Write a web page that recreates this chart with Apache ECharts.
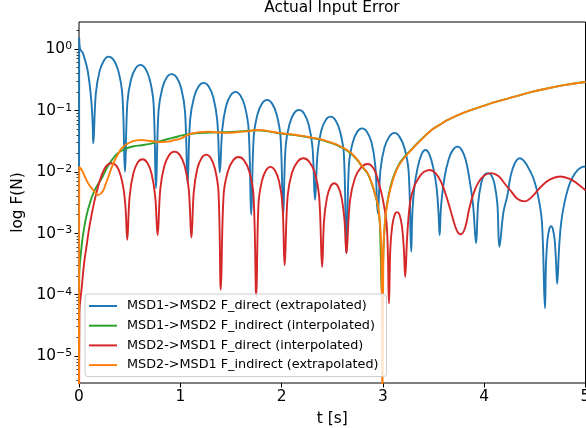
<!DOCTYPE html>
<html><head><meta charset="utf-8">
<script src="https://cdn.jsdelivr.net/npm/echarts@6/dist/echarts.min.js"></script>
<style>html,body{margin:0;padding:0;background:#fff}#c{width:586px;height:428px}</style>
</head><body><div id="c"></div>
<script>
const seriesNames = [
  'MSD1->MSD2 F_direct (extrapolated)',
  'MSD1->MSD2 F_indirect (interpolated)',
  'MSD2->MSD1 F_direct (interpolated)',
  'MSD2->MSD1 F_indirect (extrapolated)'
];
const seriesColors = ['#1f77b4', '#2ca02c', '#d62728', '#ff7f0e'];

// [t (s), F (N)]
const blueData = [
[0,1e-7],[0.002,1.5],[0.01,1.0],[0.035,0.88],[0.06,0.66],[0.085,0.45],[0.108,0.24],[0.125,0.12],[0.135,0.06],[0.141,0.029],
[0.166,0.187],[0.204,0.44],[0.251,0.67],[0.29,0.75],[0.34,0.67],[0.388,0.44],[0.428,0.18],[0.454,0.010],
[0.478,0.137],[0.515,0.325],[0.561,0.49],[0.607,0.55],[0.653,0.485],[0.699,0.315],[0.736,0.13],[0.76,0.0054],
[0.785,0.097],[0.822,0.23],[0.869,0.35],[0.916,0.39],[0.963,0.345],[1.01,0.225],[1.047,0.094],[1.072,0.0065],
[1.097,0.07],[1.136,0.165],[1.183,0.25],[1.231,0.28],[1.279,0.247],[1.326,0.162],[1.365,0.068],[1.39,0.0098],
[1.415,0.05],[1.452,0.118],[1.499,0.178],[1.545,0.20],[1.592,0.176],[1.638,0.115],[1.675,0.048],[1.70,0.002],
[1.725,0.037],[1.763,0.087],[1.81,0.132],[1.858,0.148],[1.905,0.13],[1.952,0.085],[1.99,0.036],[2.015,0.0019],
[2.04,0.026],[2.078,0.06],[2.125,0.091],[2.173,0.102],[2.22,0.09],[2.267,0.059],[2.305,0.025],[2.33,0.0035],
[2.355,0.02],[2.392,0.047],[2.439,0.071],[2.485,0.079],[2.532,0.069],[2.578,0.045],[2.615,0.019],[2.64,0.00047],
[2.665,0.013],[2.702,0.03],[2.749,0.0455],[2.795,0.051],[2.842,0.045],[2.888,0.03],[2.925,0.0125],[2.95,0.0021],
[2.976,0.0107],[3.016,0.025],[3.066,0.038],[3.115,0.043],[3.165,0.037],[3.214,0.024],[3.254,0.0102],[3.28,0.0005],
[3.29,0.002],[3.31,0.0055],[3.34,0.011],[3.38,0.019],[3.42,0.0226],[3.46,0.019],[3.50,0.011],[3.53,0.0055],[3.55,0.002],[3.56,0.00093],
[3.575,0.0029],[3.61,0.0084],[3.65,0.016],[3.69,0.0225],[3.735,0.0257],[3.78,0.0225],[3.82,0.015],[3.85,0.0084],[3.89,0.0029],[3.92,0.00069],
[3.94,0.003],[3.97,0.0065],[4.0,0.0088],[4.035,0.0095],[4.07,0.0088],[4.10,0.0065],[4.13,0.003],[4.15,0.0006],
[4.19,0.0022],[4.23,0.0042],[4.26,0.0084],[4.30,0.0135],[4.35,0.0166],[4.40,0.0145],[4.45,0.0105],[4.49,0.0075],[4.53,0.0042],[4.57,0.0015],[4.60,0.00006],
[4.61,0.00032],[4.624,0.00076],[4.642,0.00116],[4.66,0.0013],[4.678,0.00116],[4.696,0.00076],[4.71,0.00032],[4.72,0.00015],
[4.74,0.0006],[4.76,0.0015],[4.79,0.003],[4.83,0.0055],[4.87,0.008],[4.92,0.0105],[4.97,0.012],[5.0,0.0122]
];

const greenData = [
[0,1e-7],[0.002,0.00019],[0.027,0.00064],[0.05,0.0012],[0.076,0.002],[0.108,0.0031],[0.14,0.0044],[0.18,0.006],[0.224,0.0078],[0.27,0.0112],[0.32,0.0152],[0.38,0.0198],[0.454,0.0235],[0.54,0.026],[0.618,0.027],[0.70,0.0285],[0.78,0.031],[0.86,0.0335],[0.947,0.0365],[1.03,0.0395],[1.11,0.0415],[1.2,0.0428],[1.3,0.0435],[1.44,0.044],[1.55,0.0448],[1.67,0.0465],[1.77,0.0475],[1.87,0.0455],[1.97,0.0425],[2.05,0.041],[2.13,0.0395],[2.22,0.0375],[2.30,0.0355],[2.38,0.0335],[2.46,0.0305],[2.54,0.0275],[2.62,0.0235],[2.69,0.0195],[2.75,0.0153],[2.80,0.0118],[2.85,0.0093],[2.89,0.0064],[2.92,0.0044],[2.95,0.0028],[2.97,0.0014],[2.99,0.0001],[3.01,0.0008],[3.03,0.0022],[3.06,0.0045],[3.10,0.008],[3.15,0.0125],[3.20,0.0165],[3.28,0.023],[3.36,0.0315],[3.48,0.048],[3.56,0.058],[3.64,0.07],[3.80,0.092],[3.97,0.115],[4.13,0.14],[4.30,0.167],[4.46,0.198],[4.63,0.229],[4.80,0.26],[5.0,0.29]
];

const redData = [
[0,1e-7],[0.004,5e-5],[0.027,1.3e-4],[0.05,3.2e-4],[0.076,6.4e-4],[0.10,0.0012],[0.125,0.002],[0.15,0.0032],[0.175,0.0047],[0.22,0.0085],[0.27,0.0125],[0.32,0.0138],[0.37,0.0125],[0.41,0.0088],[0.44,0.0052],[0.46,0.0025],[0.476,0.00078],
[0.5,0.004],[0.536,0.0094],[0.581,0.0143],[0.626,0.016],[0.671,0.0143],[0.716,0.0094],[0.752,0.004],[0.776,0.00093],
[0.803,0.0053],[0.843,0.0125],[0.893,0.019],[0.943,0.0213],[0.993,0.019],[1.043,0.0125],[1.083,0.0053],[1.11,0.00085],
[1.133,0.0047],[1.168,0.0112],[1.212,0.0169],[1.255,0.019],[1.299,0.0169],[1.342,0.0112],[1.377,0.0047],[1.40,0.00012],
[1.428,0.0043],[1.47,0.0102],[1.523,0.0155],[1.575,0.0174],[1.628,0.0155],[1.68,0.0102],[1.722,0.0043],[1.75,0.000093],
[1.772,0.003],[1.806,0.0071],[1.848,0.0107],[1.89,0.012],[1.932,0.0107],[1.974,0.0071],[2.008,0.003],[2.03,0.0003],
[2.06,0.0041],[2.104,0.0098],[2.16,0.0148],[2.215,0.0166],[2.27,0.0148],[2.326,0.0098],[2.37,0.0041],[2.40,0.00028],
[2.419,0.0016],[2.448,0.0038],[2.484,0.0058],[2.52,0.0065],[2.556,0.0058],[2.592,0.0038],[2.621,0.0016],[2.64,0.00047],
[2.674,0.0033],[2.724,0.0079],[2.787,0.0119],[2.85,0.0134],[2.913,0.011],[2.96,0.0065],[3.0,0.0035],[3.04,0.0012],[3.06,0.000072],
[3.073,0.00055],[3.092,0.0013],[3.116,0.002],[3.14,0.0022],[3.164,0.002],[3.188,0.0013],[3.207,0.00055],[3.22,0.000195],
[3.24,0.0009],[3.27,0.0033],[3.31,0.0058],[3.35,0.0078],[3.40,0.0098],[3.46,0.0107],[3.52,0.0095],[3.58,0.0065],[3.63,0.0038],[3.68,0.002],[3.73,0.0011],[3.77,0.00096],[3.81,0.0012],[3.85,0.0024],[3.89,0.0042],[3.94,0.0066],[4.0,0.0087],[4.07,0.0095],[4.14,0.0085],[4.20,0.0065],[4.27,0.0047],[4.33,0.0036],[4.40,0.0033],[4.47,0.0039],[4.56,0.0057],[4.65,0.0075],[4.75,0.0084],[4.85,0.0076],[4.93,0.0062],[5.0,0.005]
];

const orangeData = [
[0,1e-7],[0.002,0.012],[0.03,0.0105],[0.059,0.0083],[0.09,0.0065],[0.125,0.0054],[0.16,0.0046],[0.19,0.0042],[0.215,0.0044],[0.24,0.005],[0.265,0.0064],[0.29,0.0083],[0.32,0.0115],[0.355,0.0156],[0.39,0.020],[0.42,0.024],[0.47,0.028],[0.52,0.031],[0.57,0.0325],[0.618,0.033],[0.68,0.032],[0.75,0.031],[0.82,0.0305],[0.88,0.031],[0.95,0.033],[1.01,0.035],[1.06,0.039],[1.11,0.042],[1.19,0.044],[1.275,0.045],[1.36,0.044],[1.44,0.043],[1.55,0.044],[1.67,0.046],[1.77,0.048],[1.87,0.046],[1.97,0.043],[2.05,0.0415],[2.13,0.040],[2.22,0.038],[2.30,0.036],[2.38,0.034],[2.46,0.031],[2.54,0.028],[2.62,0.024],[2.69,0.020],[2.75,0.0156],[2.80,0.012],[2.85,0.0095],[2.89,0.0065],[2.92,0.0045],[2.95,0.0029],[2.97,0.0015],[2.985,0.0005],[2.995,1e-6],[3.005,0.0005],[3.02,0.0015],[3.05,0.0035],[3.10,0.0075],[3.15,0.012],[3.20,0.016],[3.28,0.0226],[3.36,0.031],[3.48,0.048],[3.56,0.058],[3.64,0.070],[3.80,0.092],[3.97,0.115],[4.13,0.14],[4.30,0.167],[4.46,0.198],[4.63,0.229],[4.80,0.26],[5.0,0.29]
];

const xTicks = [0, 1, 2, 3, 4, 5];
const yMajorTicks = [1e-5, 1e-4, 1e-3, 1e-2, 1e-1, 1];
const yMinorMantissas = [2, 3, 4, 5, 6, 7, 8, 9];
const yMin = 3.63e-6, yMax = 2.75;
const titleText = 'Actual Input Error';
const xName = 't [s]';
const yName = 'log F(N)';

const yMinorTicks = [];
for (let k = -6; k <= 0; k++) {
  for (const m of yMinorMantissas) {
    const v = m * Math.pow(10, k);
    if (v > yMin && v < yMax) yMinorTicks.push(v);
  }
}

const FONT = 'DejaVu Sans';
const chart = echarts.init(document.getElementById('c'), null, {renderer: 'canvas'});
const dataSets = [blueData, greenData, redData, orangeData];

chart.setOption({
  animation: false,
  backgroundColor: '#fff',
  textStyle: {fontFamily: FONT},
  title: {
    text: titleText, left: 332, top: 0, textAlign: 'center', padding: 0,
    textStyle: {fontFamily: FONT, fontSize: 15.4, fontWeight: 'normal', color: '#000'}
  },
  grid: {left: 79, right: 0.5, top: 22, bottom: 45, containLabel: false, outerBoundsMode: 'none',
         show: true, borderColor: '#000', borderWidth: 1, backgroundColor: 'transparent'},
  legend: {
    orient: 'vertical', left: 85, top: 294,
    icon: 'rect', itemWidth: 28, itemHeight: 2, itemGap: 6.7,
    padding: [5.5, 8, 5, 4],
    backgroundColor: 'rgba(255,255,255,0.8)',
    borderColor: '#cccccc', borderWidth: 1, borderRadius: 3,
    textStyle: {fontFamily: FONT, fontSize: 12.8, color: '#000', padding: [0, 0, 0, 5], lineHeight: 13},
    data: seriesNames
  },
  xAxis: {
    type: 'value', min: 0, max: 5, interval: 1,
    axisLine: {show: false}, splitLine: {show: false},
    axisTick: {show: true, inside: false, length: 4.5, lineStyle: {color: '#000', width: 1}, customValues: xTicks},
    axisLabel: {fontFamily: FONT, fontSize: 15.4, color: '#000', margin: 6, customValues: xTicks, showMaxLabel: true, showMinLabel: true, hideOverlap: false},
    name: xName, nameLocation: 'middle', nameGap: 28,
    nameTextStyle: {fontFamily: FONT, fontSize: 15.4, color: '#000'}
  },
  yAxis: [{
    type: 'log', logBase: 10, min: yMin, max: yMax,
    axisLine: {show: false}, splitLine: {show: false},
    axisTick: {show: true, inside: false, length: 4.5, lineStyle: {color: '#000', width: 1}, customValues: yMajorTicks},
    axisLabel: {
      customValues: yMajorTicks, margin: 7, color: '#000',
      formatter: function (v) {
        const e = Math.round(Math.log10(v));
        return '{b|10}{s|' + (e < 0 ? '\u2212' + (-e) : String(e)) + '}';
      },
      rich: {
        b: {fontFamily: FONT, fontSize: 15.4, color: '#000', lineHeight: 16, verticalAlign: 'bottom'},
        s: {fontFamily: FONT, fontSize: 10.8, color: '#000', lineHeight: 11, padding: [0, 0, 8, 0], verticalAlign: 'top'}
      }
    },
    name: yName, nameLocation: 'middle', nameGap: 48,
    nameTextStyle: {fontFamily: FONT, fontSize: 15.4, color: '#000'}
  }, {
    type: 'log', logBase: 10, min: yMin, max: yMax, position: 'left',
    axisLine: {show: false}, splitLine: {show: false},
    axisLabel: {show: false},
    axisTick: {show: true, inside: false, length: 2.5, lineStyle: {color: '#000', width: 0.8}, customValues: yMinorTicks}
  }],
  series: seriesNames.map(function (name, i) {
    return {
      name: name, type: 'line', data: dataSets[i], yAxisIndex: 0,
      symbol: 'none', showSymbol: false, clip: true, silent: true, smooth: 0.4,
      lineStyle: {color: seriesColors[i], width: 1.9},
      itemStyle: {color: seriesColors[i]}
    };
  })
});
</script>
</body></html>
